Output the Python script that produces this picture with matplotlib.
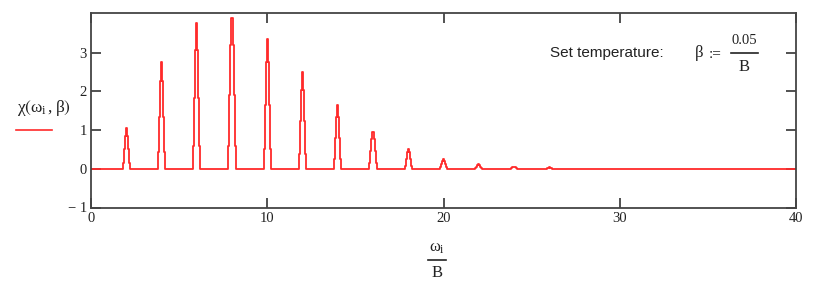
import matplotlib
matplotlib.use("Agg")
import matplotlib.pyplot as plt
from matplotlib.lines import Line2D
import numpy as np

# Data
peak_centers = [2, 4, 6, 8, 10, 12, 14, 16, 18, 20, 22, 24, 26]
peak_heights = [1.05, 2.76, 3.76, 3.89, 3.36, 2.50, 1.64, 0.95, 0.52, 0.26, 0.12, 0.05, 0.04]
# relative sample levels across one peak (read from the staircase of the tallest peak)
peak_profile = [0.0, 0.155, 0.49, 0.82, 1.0, 0.82, 0.49, 0.155, 0.0]
sample_step = 0.06
x_range = [0, 40]
y_range = [-1, 4.03]
x_ticks = [0, 10, 20, 30, 40]
y_ticks = [-1, 0, 1, 2, 3]

# assemble the sampled curve
xs = [x_range[0]]
ys = [0.0]
half = len(peak_profile) // 2
for c, h in zip(peak_centers, peak_heights):
    for k, p in enumerate(peak_profile):
        xs.append(c + (k - half) * sample_step)
        ys.append(p * h)
xs.append(x_range[1])
ys.append(0.0)

plt.rcParams["mathtext.fontset"] = "custom"
plt.rcParams["mathtext.rm"] = "Liberation Serif"
plt.rcParams["mathtext.it"] = "Liberation Serif"
plt.rcParams["mathtext.bf"] = "Liberation Serif:bold"
plt.rcParams["mathtext.fallback"] = "stix"

W, H = 814, 291
fig = plt.figure(figsize=(W / 100, H / 100), dpi=100)
ax = fig.add_axes([91 / W, 1 - 207.5 / H, (796 - 91) / W, (207.5 - 13) / H])

red = "#ff2a2a"
ax.plot(xs, ys, color=red, lw=1.3, drawstyle="steps-mid")
ax.set_xlim(*x_range)
ax.set_ylim(*y_range)
ax.set_xticks(x_ticks)
ax.set_yticks(y_ticks)
ax.set_yticklabels(["\u2212 1" if v < 0 else str(v) for v in y_ticks])
ax.tick_params(direction="in", length=7, width=1.2, color="#333333",
               top=True, right=True, labelsize=10.5, pad=3)
for lab in ax.get_xticklabels() + ax.get_yticklabels():
    lab.set_fontfamily("Liberation Serif")
    lab.set_color("#222222")
for s in ax.spines.values():
    s.set_color("#444444")
    s.set_linewidth(1.3)

# y label
fig.text(44 / W, 1 - 108 / H, r"$\chi\left(\omega_{i}\,,\beta\right)$", fontsize=12.5,
         ha="center", va="center", color="#222222")
fig.add_artist(Line2D([16 / W, 52 / W], [1 - 130 / H, 1 - 130 / H], color=red, lw=1.2))

# x label
fig.text(437 / W, 1 - 247 / H, r"$\omega_{i}$", fontsize=12, ha="center", va="center", color="#222222")
fig.add_artist(Line2D([428 / W, 446 / W], [1 - 260 / H, 1 - 260 / H], color="#222222", lw=1.2))
fig.text(437 / W, 1 - 273 / H, "B", fontsize=12, family="Liberation Serif",
         ha="center", va="center", color="#222222")

# annotation
fig.text(550 / W, 1 - 53 / H, "Set temperature:", fontsize=11, family="Liberation Sans",
         ha="left", va="center", color="#222222")
fig.text(695 / W, 1 - 53 / H, "\u03b2", fontsize=12, family="Liberation Serif",
         ha="left", va="center", color="#222222")
fig.text(709 / W, 1 - 54 / H, ":=", fontsize=11, family="Liberation Serif",
         ha="left", va="center", color="#222222")
fig.text(744 / W, 1 - 41 / H, "0.05", fontsize=10.5, family="Liberation Serif",
         ha="center", va="center", color="#222222")
fig.add_artist(Line2D([731 / W, 758 / W], [1 - 53 / H, 1 - 53 / H], color="#222222", lw=1.2))
fig.text(744 / W, 1 - 67 / H, "B", fontsize=12, family="Liberation Serif",
         ha="center", va="center", color="#222222")

fig.savefig("out.png", dpi=100, facecolor="white")
